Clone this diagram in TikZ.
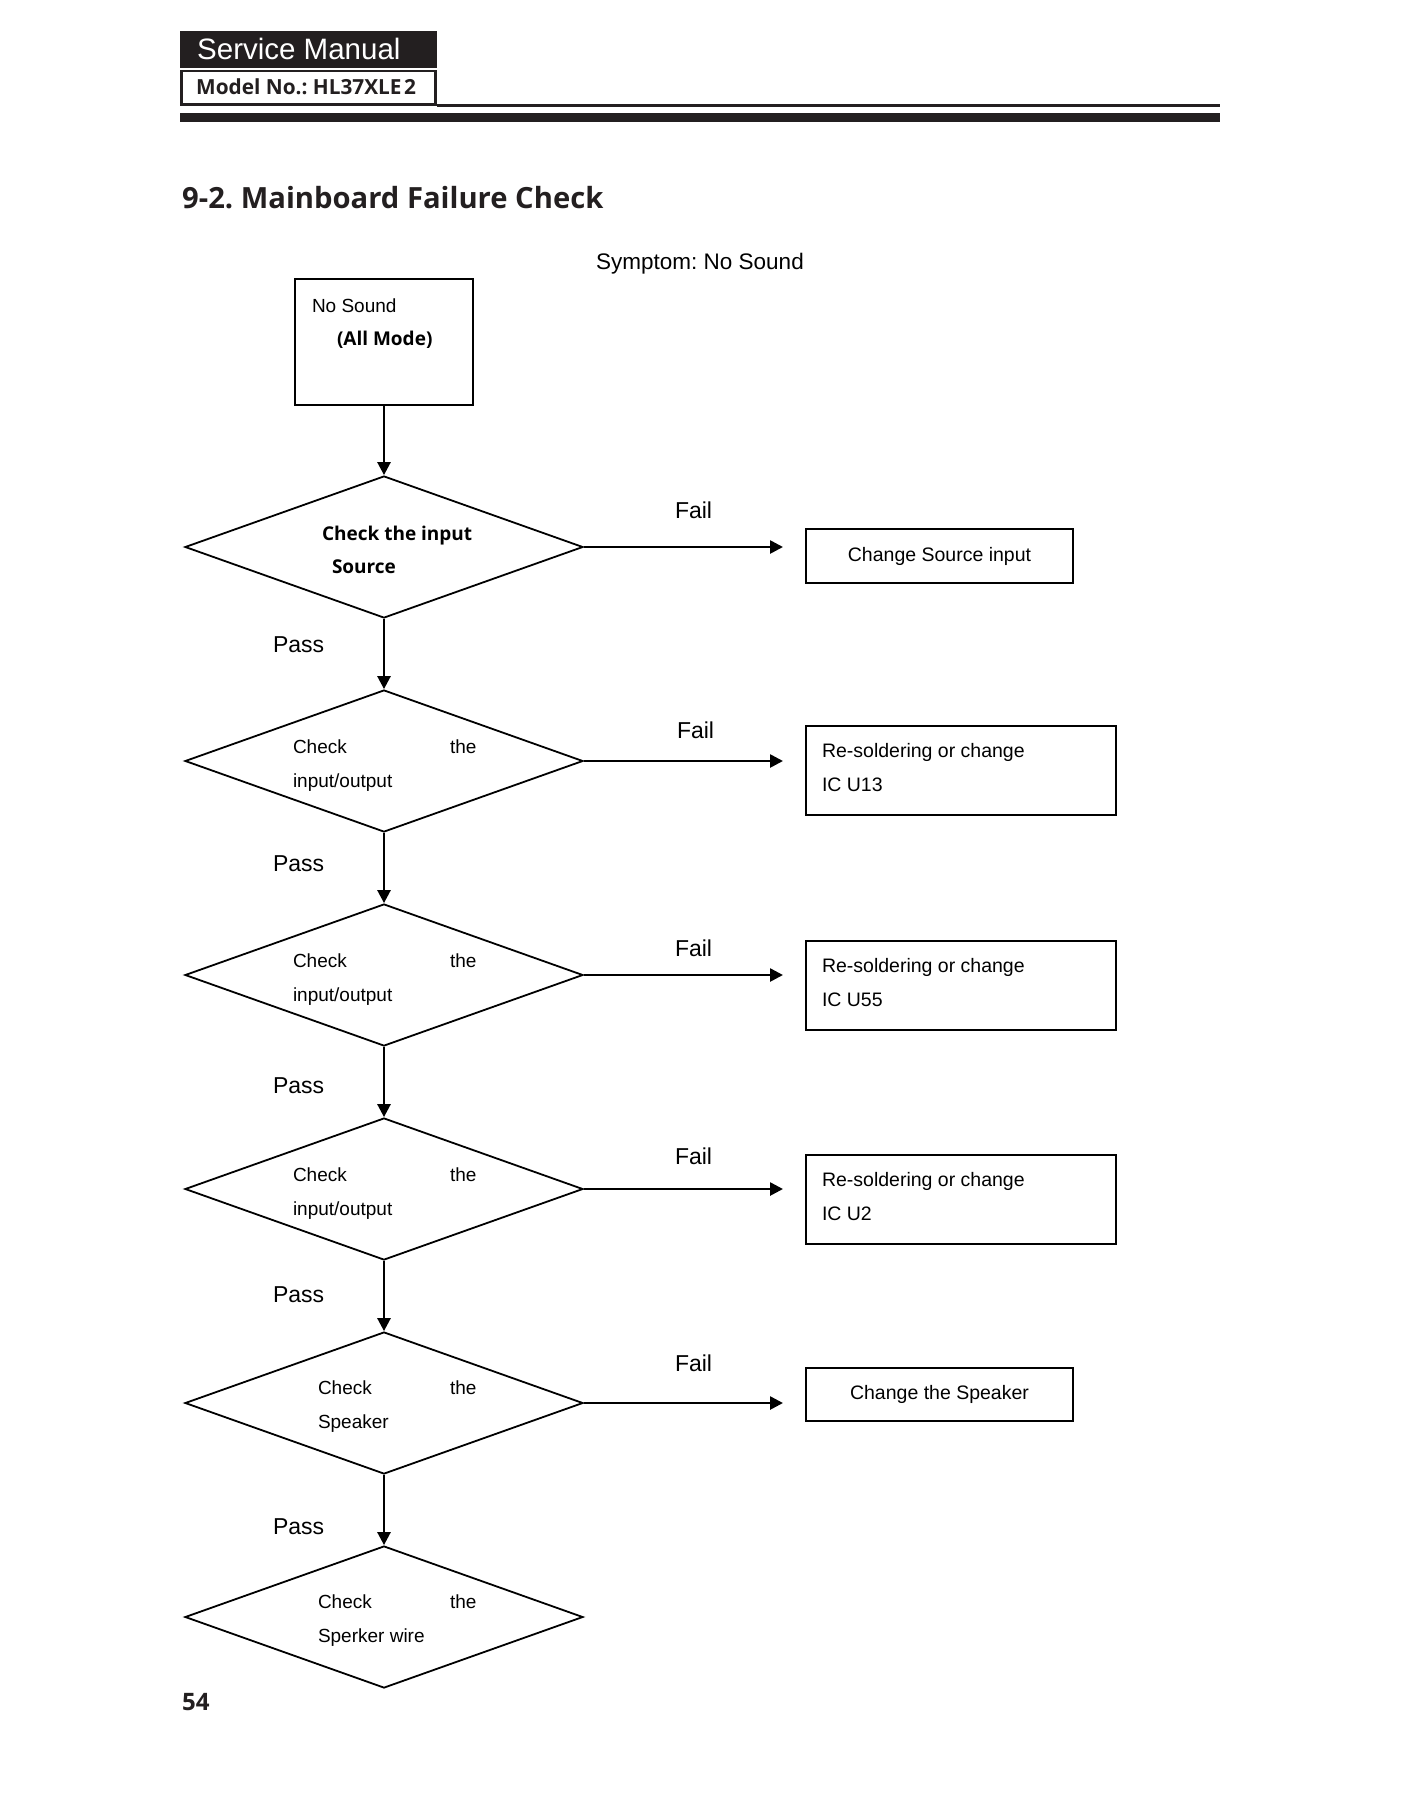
\documentclass[tikz,border=0pt]{standalone}
\usepackage{fontspec}
\setmainfont{Liberation Sans}
\newfontfamily\hfont{Open Sans}
\usetikzlibrary{shapes.geometric,arrows.meta}
\newcommand\fsz[1]{\fontsize{#1}{#1}\selectfont}
\definecolor{ink}{HTML}{231F20}
\frenchspacing
\begin{document}
\begin{tikzpicture}[x=1pt,y=-1pt,
  txt/.style={anchor=base west, inner sep=0pt, outer sep=0pt, font=\fsz{19}},
  btxt/.style={anchor=base west, inner sep=0pt, outer sep=0pt, font=\hfont\bfseries\fsz{19}},
  lbl/.style={anchor=base west, inner sep=0pt, outer sep=0pt, font=\fsz{23}},
  dia/.style={diamond, draw, line width=1.8pt, minimum width=398pt, minimum height=142pt, inner sep=0pt},
  rbox/.style={draw, line width=2pt, inner sep=0pt, font=\fsz{19.5}},
  arr/.style={line width=2.6pt, -{Triangle[length=13pt,width=13pt]}}]
\useasboundingbox (0,0) rectangle (1400,1812);
\fill[white] (0,0) rectangle (1400,1812);
% header
\fill[ink] (180,31) rectangle (437,106);
\fill[white] (180,68.3) rectangle (437,70.3);
\fill[white] (183,72) rectangle (433.5,102.5);
\fill[ink] (437,104) rectangle (1220,107);
\fill[ink] (180,113) rectangle (1220,122);
\node[anchor=base west, inner sep=0pt, text=white, font=\fsz{29.5}] (sm) at (197,59) {Service Manual};
\node[anchor=base west, inner sep=0pt, text=ink, font=\hfont\bfseries\fsz{20.8}] (model) at (196,94) {Model No.: HL37XLE\kern2.5pt 2};
\node[anchor=base west, inner sep=0pt, text=ink, font=\hfont\bfseries\fsz{29.2}] (title) at (182,208) {9-2. Mainboard Failure Check};
\node[anchor=base west, inner sep=0pt, font=\fsz{22.5}] (symp) at (596,269) {Symptom: No Sound};
\node[anchor=base west, inner sep=0pt, text=ink, font=\hfont\bfseries\fsz{24}] (pg) at (182,1710) {54};
% start box
\node[draw, line width=1.6pt, minimum width=178pt, minimum height=126pt, inner sep=0pt] (start) at (384,342) {};
\node[txt] (t0a) at (312,312) {No Sound};
\node[btxt] (t0b) at (337,345) {(All Mode)};
% diamonds
\node[dia] (d1) at (384,547) {};
\node[dia] (d2) at (384,761) {};
\node[dia] (d3) at (384,975) {};
\node[dia] (d4) at (384,1189) {};
\node[dia] (d5) at (384,1403) {};
\node[dia] (d6) at (384,1617) {};
% diamond texts
\node[btxt] (t1a) at (322,540) {Check the input};
\node[btxt] (t1b) at (332,573) {Source};
\node[txt] (t2a) at (293,753) {Check};
\node[txt] (t2b) at (450,753) {the};
\node[txt] (t2c) at (293,787) {input/output};
\node[txt] (t3a) at (293,967) {Check};
\node[txt] (t3b) at (450,967) {the};
\node[txt] (t3c) at (293,1001) {input/output};
\node[txt] (t4a) at (293,1181) {Check};
\node[txt] (t4b) at (450,1181) {the};
\node[txt] (t4c) at (293,1215) {input/output};
\node[txt] (t5a) at (318,1394) {Check};
\node[txt] (t5b) at (450,1394) {the};
\node[txt] (t5c) at (318,1428) {Speaker};
\node[txt] (t6a) at (318,1608) {Check};
\node[txt] (t6b) at (450,1608) {the};
\node[txt] (t6c) at (318,1642) {Sperker wire};
% result boxes
\node[rbox, minimum width=267pt, minimum height=54pt] (b1) at (939.5,556) {Change Source input};
\node[rbox, minimum width=310pt, minimum height=89pt] (b2) at (961,770.5) {};
\node[rbox, minimum width=310pt, minimum height=89pt] (b3) at (961,985.5) {};
\node[rbox, minimum width=310pt, minimum height=89pt] (b4) at (961,1199.5) {};
\node[rbox, minimum width=267pt, minimum height=53pt] (b5) at (939.5,1394.5) {Change the Speaker};
\node[txt, font=\fsz{19.5}] (r2a) at (822,757) {Re-soldering or change};
\node[txt, font=\fsz{19.5}] (r2b) at (822,791) {IC U13};
\node[txt, font=\fsz{19.5}] (r3a) at (822,972) {Re-soldering or change};
\node[txt, font=\fsz{19.5}] (r3b) at (822,1006) {IC U55};
\node[txt, font=\fsz{19.5}] (r4a) at (822,1186) {Re-soldering or change};
\node[txt, font=\fsz{19.5}] (r4b) at (822,1220) {IC U2};
% labels
\node[lbl] (p1) at (273,652) {Pass};
\node[lbl] (p2) at (273,871) {Pass};
\node[lbl] (p3) at (273,1093) {Pass};
\node[lbl] (p4) at (273,1302) {Pass};
\node[lbl] (p5) at (273,1534) {Pass};
\node[lbl] (f1) at (675,518) {Fail};
\node[lbl] (f2) at (677,738) {Fail};
\node[lbl] (f3) at (675,956) {Fail};
\node[lbl] (f4) at (675,1164) {Fail};
\node[lbl] (f5) at (675,1371) {Fail};
% arrow ends
\coordinate (e1) at (783,547);
\coordinate (e2) at (783,761);
\coordinate (e3) at (783,975);
\coordinate (e4) at (783,1189);
\coordinate (e5) at (783,1403);
% connectors
\draw[arr] (start.south) -- (d1.north);
\draw[arr] (d1.south) -- (d2.north);
\draw[arr] (d2.south) -- (d3.north);
\draw[arr] (d3.south) -- (d4.north);
\draw[arr] (d4.south) -- (d5.north);
\draw[arr] (d5.south) -- (d6.north);
\draw[arr] (d1.east) -- (e1);
\draw[arr] (d2.east) -- (e2);
\draw[arr] (d3.east) -- (e3);
\draw[arr] (d4.east) -- (e4);
\draw[arr] (d5.east) -- (e5);
\end{tikzpicture}
\end{document}
